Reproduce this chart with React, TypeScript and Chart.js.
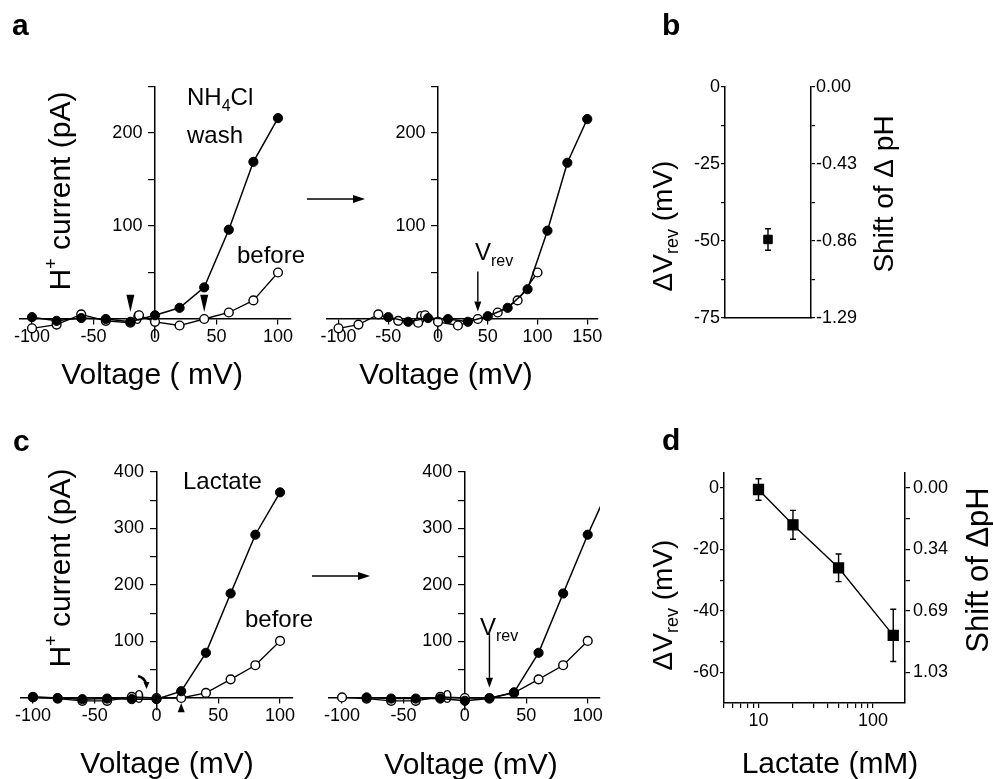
import React, { useEffect, useRef } from 'react';
import { Chart, registerables } from 'chart.js';
Chart.register(...registerables);

const FONT = '"Liberation Sans", Arial, Helvetica, sans-serif';
const PAGE_W = 993;
const PAGE_H = 779;
const INK = '#000';

// ---------- Panel a (NH4Cl) ----------
const aWashVoltage = [-100, -80, -60, -40, -20, 0, 20, 40, 60, 80, 100];
const aWashCurrent = [2, -2, 1, 0, -3, 4, 12, 34, 96, 169, 216];
const aBeforeVoltage = [-100, -80, -60, -40, -20, -13, 0, 20, 40, 60, 80, 100];
const aBeforeCurrent = [-10, -6, 5, -2, -4, 4, -3, -7, 0, 7, 20, 50];
const aShiftedWashVoltage = [-50, -30, -10, 10, 30, 50, 70, 90, 110, 130, 150];
const aShiftedWashCurrent = [2, -3, 1, 0, -3, 3, 12, 32, 95, 168, 215];
const aLeftXTicks = [-100, -50, 0, 50, 100];
const aRightXTicks = [-100, -50, 0, 50, 100, 150];
const aYTicks = [0, 50, 100, 150, 200, 250];
const aYLabels = [0, 100, 200];

// ---------- Panel b ----------
const bCategory = ['NH\u2084Cl'];
const bShift = [-49.5];
const bError = [3.5];
const bYTicks = [0, -12.5, -25, -37.5, -50, -62.5, -75];
const bYLabels = [0, -25, -50, -75];
const bPhLabels = ['0.00', '-0.43', '-0.86', '-1.29'];

// ---------- Panel c (Lactate) ----------
const cLactVoltage = [-100, -80, -60, -40, -20, 0, 20, 40, 60, 80, 100];
const cLactCurrent = [2, 0, -2, -1, -2, -2, 12, 80, 185, 289, 364];
const cBeforeVoltage = [-100, -80, -60, -40, -20, 0, 20, 40, 60, 80, 100];
const cBeforeCurrent = [1, -1, -5, -5, 2, 0, 0, 9, 33, 58, 101];
const cShiftedVoltage = [-80, -60, -40, -20, 0, 20, 40, 60, 80, 100, 120];
const cShiftedCurrent = [1, -1, -1, -1, -5, -1, 10, 80, 185, 289, 385];
const cXTicks = [-100, -50, 0, 50, 100];
const cYTicks = [0, 50, 100, 150, 200, 250, 300, 350, 400];
const cYLabels = [0, 100, 200, 300, 400];

// ---------- Panel d ----------
const dLactate = [10, 20, 50, 150];
const dShift = [-0.5, -12, -26, -48];
const dError = [3.5, 4.7, 4.5, 8.5];
const dXTicks = [5, 6, 7, 8, 9, 10, 20, 30, 40, 50, 60, 70, 80, 90, 100];
const dXLabels = [10, 100];
const dYTicks = [0, -10, -20, -30, -40, -50, -60];
const dYLabels = [0, -20, -40, -60];
const dPhLabels = ['0.00', '0.34', '0.69', '1.03'];

// ---------- layout (plot areas in page pixels) ----------
type Area = { l: number; r: number; t: number; b: number };
const AREA_AL: Area = { l: 19.7, r: 290.3, t: 86.5, b: 337.6 };
const AREA_AR: Area = { l: 326.6, r: 597.2, t: 86.5, b: 337.6 };
const AREA_B: Area = { l: 725, r: 811, t: 87, b: 318 };
const AREA_CL: Area = { l: 20.6, r: 292.4, t: 472, b: 709.3 };
const AREA_CR: Area = { l: 328.5, r: 600, t: 472, b: 709.3 };
const AREA_D: Area = { l: 724, r: 905, t: 472.6, b: 703 };
const AXIS_W = 60;   // reserved width of side axes
const AXIS_H = 40;   // reserved height of bottom axis

type Res = { left?: number; right?: number; bottom?: number };
const pad = (a: Area, r: Res = {}) => ({
  left: a.l - (r.left || 0), top: a.t,
  right: PAGE_W - a.r - (r.right || 0), bottom: PAGE_H - a.b - (r.bottom || 0),
});
const tickFont = { family: FONT, size: 18 };
const zip = (xs: number[], ys: number[]) => xs.map((x, i) => ({ x, y: ys[i] }));

const fixSize = (n: number) => (s: any) => {
  if (s.isHorizontal()) s.height = n;
  else s.width = n;
};
const fixedTicks = (values: number[]) => (s: any) => {
  s.ticks = values.map((v) => ({ value: v }));
};
const labelIf = (labels: number[], suffix = '') => (v: any) => (labels.includes(Number(v)) ? String(v) + suffix : '');
const labelMap = (at: number[], texts: string[]) => (v: any) => {
  const i = at.indexOf(Number(v));
  return i >= 0 ? texts[i] : '';
};
const Y_GAP = '\u2002\u2009'; // gap between crossing y axis and its labels

function crossX(min: number, max: number, ticks: number[], labels: number[]) {
  return {
    type: 'linear', min, max, position: { y: 0 },
    afterFit: fixSize(0), afterBuildTicks: fixedTicks(ticks),
    ticks: { font: tickFont, color: INK, padding: 2, maxRotation: 0, minRotation: 0, autoSkip: false, callback: labelIf(labels) },
    grid: { drawOnChartArea: false, drawTicks: true, tickLength: 5, color: INK, lineWidth: 1.2 },
    border: { display: true, color: INK, width: 1.5 },
  };
}
function crossY(min: number, max: number, ticks: number[], labels: number[]) {
  return {
    type: 'linear', min, max, position: { x: 0 },
    afterFit: fixSize(0), afterBuildTicks: fixedTicks(ticks),
    ticks: { font: tickFont, color: INK, padding: 6, autoSkip: false, callback: labelIf(labels, Y_GAP) },
    grid: { drawOnChartArea: false, drawTicks: true, tickLength: 6, color: INK, lineWidth: 1.2 },
    border: { display: true, color: INK, width: 1.5 },
  };
}
function sideY(min: number, max: number, position: string, ticks: number[], cb: any, tickLength: number, padding: number) {
  return {
    type: 'linear', min, max, position, afterFit: fixSize(AXIS_W), afterBuildTicks: fixedTicks(ticks),
    ticks: { font: tickFont, color: INK, padding, autoSkip: false, callback: cb },
    grid: { drawOnChartArea: false, tickLength, color: INK, lineWidth: 1.2 },
    border: { display: true, color: INK, width: 1.5 },
  };
}

const filledSeries = (data: any[]) => ({
  data, showLine: true, borderColor: INK, borderWidth: 1.5, tension: 0,
  pointRadius: 4.6, pointBorderWidth: 1, pointBackgroundColor: INK, pointBorderColor: INK,
});
const openSeries = (data: any[]) => ({
  data, showLine: true, borderColor: INK, borderWidth: 1.3, tension: 0,
  pointRadius: 4.4, pointBorderWidth: 1.4, pointBackgroundColor: '#fff', pointBorderColor: INK,
});

// ---------- drawing helpers ----------
type Run = { t: string; size: number; dy?: number; bold?: boolean };
function runs(ctx: CanvasRenderingContext2D, rs: Run[], x: number, y: number, align: 'left' | 'center' = 'left', rotate = 0) {
  ctx.save();
  ctx.translate(x, y);
  if (rotate) ctx.rotate(rotate);
  ctx.fillStyle = INK;
  ctx.textAlign = 'left';
  ctx.textBaseline = 'alphabetic';
  const font = (r: Run) => `${r.bold ? 'bold ' : ''}${r.size}px ${FONT}`;
  const widths = rs.map((r) => { ctx.font = font(r); return ctx.measureText(r.t).width; });
  const total = widths.reduce((a, b) => a + b, 0);
  let cx = align === 'center' ? -total / 2 : 0;
  rs.forEach((r, i) => { ctx.font = font(r); ctx.fillText(r.t, cx, r.dy || 0); cx += widths[i]; });
  ctx.restore();
}
const text = (ctx: CanvasRenderingContext2D, t: string, size: number, x: number, y: number, align: 'left' | 'center' = 'left', rotate = 0, bold = false) =>
  runs(ctx, [{ t, size, bold }], x, y, align, rotate);

function arrow(ctx: CanvasRenderingContext2D, x1: number, y1: number, x2: number, y2: number, head = 11, half = 4, lw = 1.5) {
  const ang = Math.atan2(y2 - y1, x2 - x1);
  const bx = x2 - head * Math.cos(ang);
  const by = y2 - head * Math.sin(ang);
  ctx.save();
  ctx.strokeStyle = INK; ctx.fillStyle = INK; ctx.lineWidth = lw;
  ctx.beginPath(); ctx.moveTo(x1, y1); ctx.lineTo(bx, by); ctx.stroke();
  ctx.beginPath();
  ctx.moveTo(x2, y2);
  ctx.lineTo(bx + half * Math.sin(ang), by - half * Math.cos(ang));
  ctx.lineTo(bx - half * Math.sin(ang), by + half * Math.cos(ang));
  ctx.closePath(); ctx.fill();
  ctx.restore();
}
function triangle(ctx: CanvasRenderingContext2D, x: number, tipY: number, baseY: number, half: number) {
  ctx.save(); ctx.fillStyle = INK;
  ctx.beginPath(); ctx.moveTo(x, tipY); ctx.lineTo(x - half, baseY); ctx.lineTo(x + half, baseY); ctx.closePath(); ctx.fill();
  ctx.restore();
}
const px = (c: any, v: number) => c.scales.x.getPixelForValue(v);
const py = (c: any, v: number) => c.scales.y.getPixelForValue(v);

function errorBars(errs: number[], values: number[], cap: number) {
  return {
    id: 'errbars',
    beforeDatasetsDraw(chart: any) {
      const meta = chart.getDatasetMeta(0);
      const ctx = chart.ctx;
      ctx.save(); ctx.strokeStyle = INK; ctx.lineWidth = 1.4;
      meta.data.forEach((pt: any, i: number) => {
        const y1 = py(chart, values[i] + errs[i]);
        const y2 = py(chart, values[i] - errs[i]);
        ctx.beginPath();
        ctx.moveTo(pt.x, y1); ctx.lineTo(pt.x, y2);
        ctx.moveTo(pt.x - cap, y1); ctx.lineTo(pt.x + cap, y1);
        ctx.moveTo(pt.x - cap, y2); ctx.lineTo(pt.x + cap, y2);
        ctx.stroke();
      });
      ctx.restore();
    },
  };
}

const ROT = -Math.PI / 2;
const yTitleH: Run[] = [{ t: 'H', size: 30 }, { t: '+', size: 18, dy: -13 }, { t: ' current (pA)', size: 30 }];
const dvTitle: Run[] = [{ t: '\u0394V', size: 28 }, { t: 'rev', size: 18, dy: 6 }, { t: ' (mV)', size: 28 }];

const common = (area: Area, r: Res = {}) => ({
  responsive: false, animation: false, events: [],
  layout: { padding: pad(area, r) },
  plugins: { legend: { display: false }, tooltip: { enabled: false }, title: { display: false } },
});

// ---------- chart configs ----------
function makeAL() {
  return {
    type: 'scatter',
    data: { datasets: [filledSeries(zip(aWashVoltage, aWashCurrent)), openSeries(zip(aBeforeVoltage, aBeforeCurrent))] },
    options: { ...common(AREA_AL), scales: { x: crossX(-110, 110, aLeftXTicks, aLeftXTicks), y: crossY(-20, 250, aYTicks, aYLabels) } },
    plugins: [{
      id: 'decorAL',
      afterDraw(c: any) {
        const ctx = c.ctx;
        text(ctx, 'a', 30, 12, 35, 'left', 0, true);
        runs(ctx, yTitleH, 70, 191, 'center', ROT);
        text(ctx, 'Voltage ( mV)', 30, 152, 384, 'center');
        runs(ctx, [{ t: 'NH', size: 24 }, { t: '4', size: 16, dy: 6 }, { t: 'Cl', size: 24 }], 187, 105);
        text(ctx, 'wash', 24, 187, 143);
        text(ctx, 'before', 24, 237, 263);
        triangle(ctx, px(c, -20), py(c, 7.5), py(c, 26), 4);
        triangle(ctx, px(c, 40), py(c, 7.5), py(c, 26), 4);
        arrow(ctx, 307, 199, 365, 199, 12, 4, 1.6);
      },
    }],
  };
}
function makeAR() {
  return {
    type: 'scatter',
    data: { datasets: [filledSeries(zip(aShiftedWashVoltage, aShiftedWashCurrent)), openSeries(zip(aBeforeVoltage, aBeforeCurrent))] },
    options: { ...common(AREA_AR), scales: { x: crossX(-112, 160, aRightXTicks, aRightXTicks), y: crossY(-20, 250, aYTicks, aYLabels) } },
    plugins: [{
      id: 'decorAR',
      afterDraw(c: any) {
        const ctx = c.ctx;
        text(ctx, 'Voltage (mV)', 30, 446, 384, 'center');
        runs(ctx, [{ t: 'V', size: 24 }, { t: 'rev', size: 16, dy: 6 }], 475, 260);
        arrow(ctx, px(c, 40), py(c, 51), px(c, 40), py(c, 8), 10, 3.5, 1.4);
      },
    }],
  };
}
function makeB() {
  return {
    type: 'line',
    data: {
      labels: bCategory,
      datasets: [{ data: bShift, showLine: false, pointStyle: 'rect', pointRadius: 6, pointBackgroundColor: INK, pointBorderColor: INK, borderColor: INK }],
    },
    options: {
      ...common(AREA_B, { left: AXIS_W, right: AXIS_W }),
      scales: {
        x: { type: 'category', offset: true, position: 'bottom', afterFit: fixSize(0), ticks: { display: false }, grid: { display: false, drawTicks: false }, border: { display: true, color: INK, width: 1.4 } },
        y: sideY(-75, 0, 'left', bYTicks, labelIf(bYLabels), 4, 1),
        y2: sideY(-75, 0, 'right', bYTicks, labelMap(bYLabels, bPhLabels), 4, 1),
      },
    },
    plugins: [errorBars(bError, bShift, 3), {
      id: 'decorB',
      afterDraw(c: any) {
        const ctx = c.ctx;
        text(ctx, 'b', 30, 662, 35, 'left', 0, true);
        runs(ctx, dvTitle, 672, 226, 'center', ROT);
        text(ctx, 'Shift of \u0394 pH', 28, 893, 194, 'center', ROT);
      },
    }],
  };
}
function makeCL() {
  return {
    type: 'scatter',
    data: { datasets: [filledSeries(zip(cLactVoltage, cLactCurrent)), openSeries(zip(cBeforeVoltage, cBeforeCurrent))] },
    options: { ...common(AREA_CL), scales: { x: crossX(-110, 110, cXTicks, cXTicks), y: crossY(-20, 400, cYTicks, cYLabels) } },
    plugins: [{
      id: 'decorCL',
      afterDraw(c: any) {
        const ctx = c.ctx;
        text(ctx, 'c', 30, 13, 451, 'left', 0, true);
        runs(ctx, yTitleH, 70, 568, 'center', ROT);
        text(ctx, 'Voltage (mV)', 30, 167, 773, 'center');
        text(ctx, 'Lactate', 24, 183, 489);
        text(ctx, 'before', 24, 245, 627);
        triangle(ctx, px(c, 20), py(c, -9), py(c, -25), 3.5);
        ctx.save();
        ctx.strokeStyle = INK; ctx.lineWidth = 2.6;
        ctx.beginPath(); ctx.moveTo(138, 676); ctx.quadraticCurveTo(145, 678, 146, 684); ctx.stroke();
        ctx.restore();
        triangle(ctx, 146.5, 689, 682, 3);
        arrow(ctx, 312, 576, 370, 576, 12, 4, 1.6);
      },
    }],
  };
}
function makeCR() {
  return {
    type: 'scatter',
    data: { datasets: [filledSeries(zip(cShiftedVoltage, cShiftedCurrent)), openSeries(zip(cBeforeVoltage, cBeforeCurrent))] },
    options: { ...common(AREA_CR), scales: { x: crossX(-111, 110, cXTicks, cXTicks), y: crossY(-20, 400, cYTicks, cYLabels) } },
    plugins: [{
      id: 'decorCR',
      afterDraw(c: any) {
        const ctx = c.ctx;
        text(ctx, 'Voltage (mV)', 30, 471, 774, 'center');
        runs(ctx, [{ t: 'V', size: 24 }, { t: 'rev', size: 16, dy: 6 }], 480, 635);
        arrow(ctx, px(c, 20), py(c, 115), px(c, 20), py(c, 18), 10, 3.5, 1.4);
      },
    }],
  };
}
function makeD() {
  return {
    type: 'scatter',
    data: {
      datasets: [{ data: zip(dLactate, dShift), showLine: true, borderColor: INK, borderWidth: 1.4, pointStyle: 'rect', pointRadius: 7, pointBackgroundColor: INK, pointBorderColor: INK }],
    },
    options: {
      ...common(AREA_D, { left: AXIS_W, right: AXIS_W, bottom: AXIS_H }),
      scales: {
        x: { type: 'logarithmic', min: 5, max: 190, position: 'bottom', afterFit: fixSize(AXIS_H), afterBuildTicks: fixedTicks(dXTicks),
          ticks: { font: tickFont, color: INK, padding: 2, autoSkip: false, maxRotation: 0, minRotation: 0, callback: labelIf(dXLabels) },
          grid: { drawOnChartArea: false, tickLength: 5, color: INK, lineWidth: 1.2 }, border: { display: true, color: INK, width: 1.5 } },
        y: sideY(-70, 5, 'left', dYTicks, labelIf(dYLabels), 4, 1),
        y2: sideY(-70, 5, 'right', dYTicks, labelMap(dYLabels, dPhLabels), 5, 3),
      },
    },
    plugins: [errorBars(dError, dShift, 3), {
      id: 'decorD',
      afterDraw(c: any) {
        const ctx = c.ctx;
        text(ctx, 'd', 30, 662, 450, 'left', 0, true);
        runs(ctx, dvTitle, 672, 605, 'center', ROT);
        text(ctx, 'Shift of \u0394pH', 31, 988, 570, 'center', ROT);
        text(ctx, 'Lactate (mM)', 30, 830, 773, 'center');
      },
    }],
  };
}

function ChartCanvas({ make }: { make: () => any }) {
  const ref = useRef<HTMLCanvasElement>(null);
  useEffect(() => {
    const chart = new Chart(ref.current as HTMLCanvasElement, make() as any);
    return () => chart.destroy();
  }, []);
  return (
    <canvas ref={ref} width={PAGE_W} height={PAGE_H}
      style={{ position: 'absolute', left: 0, top: 0, width: PAGE_W, height: PAGE_H }} />
  );
}

export default function App() {
  return (
    <div style={{ position: 'absolute', left: 0, top: 0, width: PAGE_W, height: PAGE_H, background: '#fff', overflow: 'hidden' }}>
      <ChartCanvas make={makeAL} />
      <ChartCanvas make={makeAR} />
      <ChartCanvas make={makeB} />
      <ChartCanvas make={makeCL} />
      <ChartCanvas make={makeCR} />
      <ChartCanvas make={makeD} />
    </div>
  );
}
